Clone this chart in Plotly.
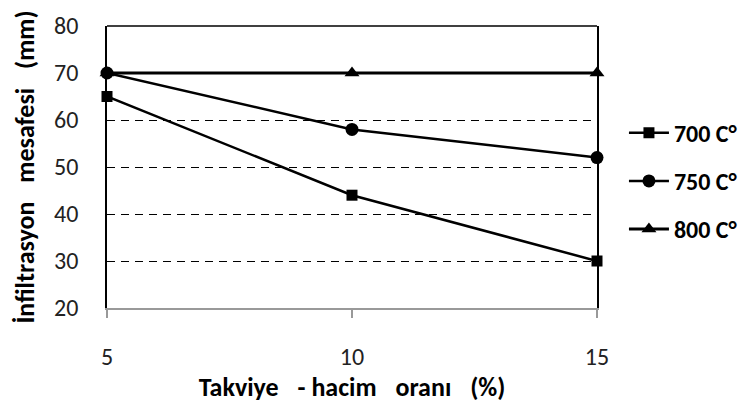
import plotly.graph_objects as go

x_vals = [5, 10, 15]
s700 = [65, 44, 30]
s750 = [70, 58, 52]
s800 = [70, 70, 70]
names = ["700 C°", "750 C°", "800 C°"]
symbols = ["square", "circle", "triangle-up"]
x_ticks = [5, 10, 15]
y_ticks = [20, 30, 40, 50, 60, 70, 80]

FONT = "Carlito, Open Sans"
SP = "\u2002\u00a0"
fig = go.Figure()
for i, (ys, nm, sym) in enumerate(zip([s700, s750, s800], names, symbols)):
    fig.add_trace(go.Scatter(
        x=x_vals, y=ys, name=nm, mode="lines+markers",
        legendgroup=str(i),
        line=dict(color="black", width=2.5 if i < 2 else 3),
        marker=dict(symbol=sym, size=13 if sym != "square" else 11, color="black"),
        cliponaxis=False,
    ))

fig.update_layout(
    width=755, height=407,
    margin=dict(l=99, r=166, t=18, b=107),
    plot_bgcolor="white", paper_bgcolor="white",
    font=dict(family=FONT, color="#222"),
    showlegend=True,
    legend=dict(x=1.055, y=0.70, xanchor="left", yanchor="top",
                font=dict(size=24, family=FONT, color="black", weight="bold"),
                tracegroupgap=14, traceorder="grouped",
                bgcolor="rgba(0,0,0,0)", itemwidth=40),
    xaxis=dict(range=[5, 15], tickvals=x_ticks, showgrid=False, zeroline=False,
               automargin=False,
               showline=True, linecolor="#999", linewidth=1.5,
               ticks="outside", ticklen=8, tickcolor="#999", tickwidth=1.5,
               ticklabelstandoff=18,
               tickfont=dict(size=24, color="#222"),
               title=dict(text=f"Takviye{SP}- hacim{SP}oranı{SP}(%)", standoff=3,
                          font=dict(size=26, color="black", weight="bold"))),
    yaxis=dict(range=[20, 80], tickvals=y_ticks, showgrid=True,
               automargin=False,
               gridcolor="black", griddash="8px,6px", gridwidth=1, zeroline=False,
               showline=True, linecolor="black", linewidth=1.5, mirror=True,
               ticks="", ticklabelstandoff=22,
               tickfont=dict(size=24, color="#222"),
               title=dict(text=f"İnfiltrasyon{SP}mesafesi{SP}(mm)", standoff=12,
                          font=dict(size=26, color="black", weight="bold"))),
)
fig.add_shape(type="line", xref="paper", yref="paper", x0=0, x1=1, y0=1, y1=1,
              line=dict(color="black", width=1.5))
fig.write_html("out.html")
